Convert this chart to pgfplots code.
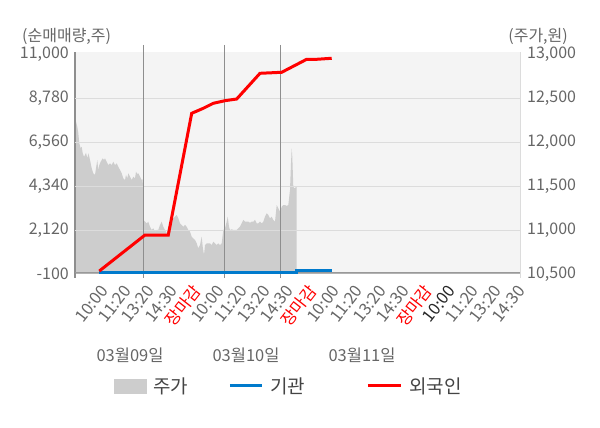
\documentclass[border=0pt]{standalone}
\usepackage{fontspec}
\setmainfont{Noto Sans CJK KR}
\usepackage{pgfplots}
\usepackage{pgfplotstable}
\pgfplotsset{compat=1.18}
\definecolor{bgc}{HTML}{F4F4F4}
\definecolor{areac}{HTML}{CDCDCD}
\definecolor{gridc}{HTML}{DCDCDC}
\definecolor{vgc}{HTML}{8E8E8E}
\definecolor{txtc}{HTML}{666666}
\definecolor{legc}{HTML}{444444}
\definecolor{bluec}{HTML}{007ACC}
\definecolor{redc}{HTML}{FF0000}

\pgfplotstableread{
x price
0 12233
1 12233
2.3 12176
3.3 12105
4.3 11987
5.7 11930
6.7 11949
7.7 11874
9 11835
10 11854
11 11880
12.3 11817
13.3 11874
14.3 11835
15.7 11760
16.7 11703
18.3 11646
20 11627
21 11703
22.3 11797
23.3 11684
24.3 11740
25.7 11778
27.7 11817
29 11797
30 11817
31.7 11778
33.3 11740
35 11760
36.7 11740
38.3 11778
40 11740
41.7 11760
43.3 11721
45 11684
46.7 11646
48.3 11589
50 11570
51 11627
52.3 11589
53.3 11646
55 11607
56.7 11570
58.3 11607
60 11589
61 11664
62.3 11638
63.3 11646
65 11607
66.7 11570
67.7 11578
68.3 11115
70 11095
71.7 11077
73.3 11095
75 11038
76.7 11001
78.3 11020
80 10981
81.7 11001
83.3 11001
85 11058
86.7 11095
88.3 11038
90 11001
91.7 10963
93.3 11038
95 11077
96.7 11115
98.3 11134
100 11152
101.7 11171
103.3 11134
105 11077
106.7 11058
108.3 11038
110 11058
111.7 11038
113.3 11001
115 10981
116.7 10924
118.3 10906
120 10887
121.7 10849
123.3 10792
125 10830
126.7 10924
127.7 10811
129 10716
130 10830
131.7 10849
133.3 10849
135 10849
136.7 10830
138.3 10868
140 10849
141.7 10830
143.3 10849
145 10830
146.7 10849
148.3 11001
150 11020
151.7 11095
152.7 11152
154 11038
155 11001
156.7 11009
158.3 11001
160 11001
161.7 11001
163.3 11020
165 11038
166.7 11077
168.3 11115
170 11095
171.7 11095
173.3 11095
175 11084
176.7 11095
178.3 11095
180 11115
181.7 11077
183.3 11077
185 11095
186.7 11077
188.3 11095
190 11152
191.7 11191
193.3 11171
195 11134
196.7 11152
198.3 11115
200 11095
201.7 11285
203.3 11248
205 11209
206.7 11266
208.3 11285
210 11285
211.7 11274
213.3 11285
215 11456
216 11760
216.7 11930
217.3 11835
218.3 11493
219.3 11475
221.7 11493
}\pricedata

\pgfplotstableread{
x val
24.3 50
70 1870
93.3 1870
116.7 8023
128.3 8276
138.3 8529
150 8660
161.7 8746
185 10045
206.7 10096
231.7 10753
241.7 10753
256.7 10804
}\foreigndata

\pgfplotstableread{
x val
24.3 -14
221.7 -14
221.7 52
256.7 52
}\instdata

\begin{document}
\begin{tikzpicture}[x=1pt,y=1pt]
\useasboundingbox (0,0) rectangle (600,428);
% right axis: price area
\begin{axis}[
  at={(75pt,154pt)}, anchor=south west,
  width=445pt, height=222pt, scale only axis,
  xmin=0, xmax=445, ymin=10500, ymax=13027,
  axis background/.style={fill=bgc},
  axis x line=none, axis y line*=right,
  y axis line style={draw=gridc, line width=1pt},
  xtick=\empty,
  scaled y ticks=false,
  ytick={10500,11000,11500,12000,12500,13000},
  yticklabels={{10,500},{11,000},{11,500},{12,000},{12,500},{13,000}},
  major tick length=0pt,
  yticklabel style={font=\fontsize{16}{18}\selectfont, text=txtc, anchor=west, inner sep=0pt, xshift=7pt},
]
\addplot[fill=areac, draw=none] table[x=x,y=price]{\pricedata} \closedcycle;
\end{axis}
% left axis: net buying
\begin{axis}[
  at={(75pt,154pt)}, anchor=south west,
  width=445pt, height=222pt, scale only axis,
  xmin=0, xmax=445, ymin=-100, ymax=11122,
  axis x line*=bottom, axis y line*=left,
  x axis line style={draw=black!30, line width=1pt},
  y axis line style={draw=vgc, line width=1pt},
  clip=false,
  scaled y ticks=false, scaled x ticks=false,
  major tick length=0pt,
  ytick={-100,11000}, yticklabels={-100,{11,000}},
  extra y ticks={2120,4340,6560,8780},
  extra y tick labels={{2,120},{4,340},{6,560},{8,780}},
  extra y tick style={grid=major},
  major grid style={draw=gridc, line width=1pt},
  yticklabel style={font=\fontsize{16}{18}\selectfont, text=txtc, anchor=east, inner sep=0pt, xshift=-6pt},
  xtick={18.5,41.65,64.8,87.95,111.1,134.25,157.4,180.55,203.7,226.85,250,273.15,296.3,319.45,342.6,365.75,388.9,412.05,435.2},
  xticklabels={10:00,11:20,13:20,14:30,{\textcolor{redc}{장마감}},10:00,11:20,13:20,14:30,{\textcolor{redc}{장마감}},10:00,11:20,13:20,14:30,{\textcolor{redc}{장마감}},{\textcolor{black!85}{10:00}},11:20,13:20,14:30},
  xticklabel style={font=\fontsize{16.5}{18}\selectfont, text=txtc, rotate=52, anchor=east, inner sep=0pt, xshift=-4pt, yshift=-17pt},
  legend columns=3,
  legend cell align=left,
  legend style={draw=none, fill=none, at={(0.0876,-0.5045)}, anchor=west, inner sep=0pt, outer sep=0pt,
    nodes={inner sep=0pt, text=legc, font=\fontsize{19}{21}\selectfont},
    /tikz/every odd column/.append style={column sep=7pt},
    /tikz/every even column/.append style={column sep=0pt}},
]
\addlegendimage{legend image code/.code={\fill[areac] (0pt,-7pt) rectangle (32pt,7pt);}}
\addlegendentry{\makebox[75pt][l]{주가}}
\addlegendimage{legend image code/.code={\draw[bluec, line width=3pt] (0pt,0pt) -- (32pt,0pt);}}
\addlegendentry{\makebox[96pt][l]{기관}}
\addlegendimage{legend image code/.code={\draw[redc, line width=3pt] (0pt,0pt) -- (33pt,0pt);}}
\addlegendentry{외국인}
% zero line and vertical separators
\draw[black!40, line width=1pt] (axis cs:0,0) -- (axis cs:445,0);
\draw[vgc, line width=1pt] (axis cs:68.3,11476) -- (axis cs:68.3,-302);
\draw[vgc, line width=1pt] (axis cs:149.3,11476) -- (axis cs:149.3,-302);
\draw[vgc, line width=1pt] (axis cs:205.7,11476) -- (axis cs:205.7,-302);
\draw[vgc, line width=1pt] (axis cs:0,-100) -- (axis cs:0,-302);
\draw[gridc, line width=1pt] (axis cs:445,-100) -- (axis cs:445,-302);
\addplot[bluec, line width=3pt, forget plot] table[x=x,y=val]{\instdata};
\addplot[redc, line width=3pt, forget plot] table[x=x,y=val]{\foreigndata};
\end{axis}
\node[anchor=west, text=txtc, font=\fontsize{16}{18}\selectfont, inner sep=0pt] at (22,392) {(순매매량,주)};
\node[anchor=east, text=txtc, font=\fontsize{16}{18}\selectfont, inner sep=0pt] at (568,392) {(주가,원)};
\node[text=txtc, font=\fontsize{16.5}{18}\selectfont, inner sep=0pt] at (130,73) {03월09일};
\node[text=txtc, font=\fontsize{16.5}{18}\selectfont, inner sep=0pt] at (246,73) {03월10일};
\node[text=txtc, font=\fontsize{16.5}{18}\selectfont, inner sep=0pt] at (362,73) {03월11일};
\end{tikzpicture}
\end{document}
